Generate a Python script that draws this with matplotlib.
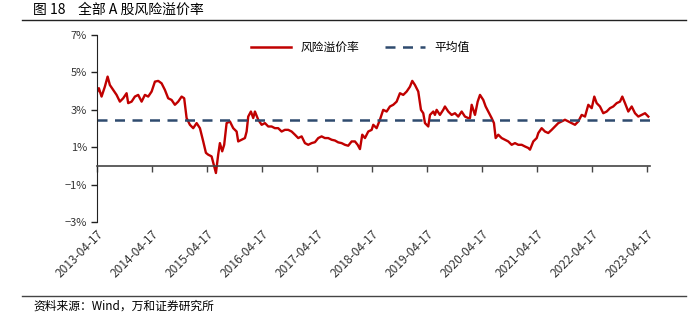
import numpy as np
import matplotlib
matplotlib.use("Agg")
import matplotlib.pyplot as plt
from matplotlib.lines import Line2D

plt.rcParams['font.family'] = ['Noto Sans CJK SC', 'DejaVu Sans']
plt.rcParams['axes.unicode_minus'] = True

# decimal year / risk premium (%)
years = [2013.285, 2013.326, 2013.375, 2013.435, 2013.485, 2013.526, 2013.586, 2013.648, 2013.708, 2013.768,
         2013.830, 2013.859, 2013.921, 2013.981, 2014.041, 2014.103, 2014.163, 2014.223, 2014.285, 2014.345,
         2014.405, 2014.466, 2014.526, 2014.586, 2014.648, 2014.708, 2014.768, 2014.830, 2014.877, 2014.921,
         2014.981, 2015.041, 2015.103, 2015.163, 2015.223, 2015.272, 2015.314, 2015.375, 2015.423, 2015.454,
         2015.495, 2015.526, 2015.568, 2015.604, 2015.648, 2015.708, 2015.768, 2015.830, 2015.859, 2015.921,
         2015.981, 2016.012, 2016.041, 2016.090, 2016.132, 2016.163, 2016.223, 2016.285, 2016.345, 2016.405,
         2016.466, 2016.526, 2016.586, 2016.648, 2016.708, 2016.768, 2016.830, 2016.890, 2016.950, 2017.012,
         2017.072, 2017.132, 2017.194, 2017.254, 2017.314, 2017.375, 2017.435, 2017.495, 2017.557, 2017.617,
         2017.677, 2017.739, 2017.799, 2017.859, 2017.921, 2017.981, 2018.030, 2018.072, 2018.114, 2018.163,
         2018.223, 2018.285, 2018.314, 2018.375, 2018.435, 2018.495, 2018.557, 2018.617, 2018.677, 2018.739,
         2018.799, 2018.859, 2018.921, 2018.981, 2019.023, 2019.072, 2019.132, 2019.181, 2019.223, 2019.254,
         2019.314, 2019.345, 2019.405, 2019.435, 2019.466, 2019.526, 2019.586, 2019.617, 2019.677, 2019.739,
         2019.799, 2019.859, 2019.921, 2019.981, 2020.041, 2020.072, 2020.103, 2020.132, 2020.163, 2020.212,
         2020.254, 2020.314, 2020.357, 2020.405, 2020.466, 2020.508, 2020.539, 2020.586, 2020.648, 2020.708,
         2020.768, 2020.830, 2020.890, 2020.950, 2021.012, 2021.072, 2021.132, 2021.163, 2021.223, 2021.285,
         2021.314, 2021.375, 2021.435, 2021.495, 2021.557, 2021.617, 2021.677, 2021.739, 2021.799, 2021.859,
         2021.921, 2021.981, 2022.041, 2022.103, 2022.163, 2022.223, 2022.285, 2022.332, 2022.375, 2022.435,
         2022.495, 2022.557, 2022.617, 2022.677, 2022.739, 2022.799, 2022.841, 2022.890, 2022.950, 2023.012,
         2023.072, 2023.132, 2023.194, 2023.254, 2023.314]
premium = [3.89, 4.16, 3.71, 4.24, 4.78, 4.33, 4.07, 3.80, 3.44, 3.62,
           3.89, 3.36, 3.44, 3.71, 3.80, 3.44, 3.80, 3.71, 3.98, 4.51,
           4.55, 4.42, 4.07, 3.62, 3.53, 3.27, 3.44, 3.71, 3.62, 2.56,
           2.20, 2.02, 2.29, 2.02, 1.31, 0.70, 0.60, 0.51, -0.02, -0.38,
           0.60, 1.22, 0.78, 1.13, 2.29, 2.38, 2.02, 1.84, 1.31, 1.40,
           1.49, 1.84, 2.64, 2.91, 2.56, 2.91, 2.47, 2.20, 2.29, 2.11,
           2.11, 2.02, 2.02, 1.84, 1.93, 1.93, 1.84, 1.67, 1.49, 1.58,
           1.22, 1.13, 1.22, 1.27, 1.49, 1.58, 1.49, 1.49, 1.40, 1.36,
           1.26, 1.22, 1.13, 1.08, 1.31, 1.31, 1.13, 0.90, 1.67, 1.49,
           1.84, 1.93, 2.20, 2.02, 2.47, 3.00, 2.91, 3.18, 3.27, 3.44,
           3.89, 3.80, 3.98, 4.24, 4.55, 4.33, 3.98, 3.00, 2.82, 2.29,
           2.11, 2.73, 2.91, 2.73, 3.00, 2.73, 3.00, 3.18, 2.91, 2.73,
           2.82, 2.64, 2.91, 2.64, 2.56, 2.56, 3.27, 3.00, 2.73, 3.44,
           3.80, 3.53, 3.18, 2.91, 2.56, 2.29, 1.49, 1.67, 1.49, 1.40,
           1.31, 1.13, 1.22, 1.13, 1.13, 1.04, 0.96, 0.87, 1.31, 1.49,
           1.76, 2.02, 1.84, 1.76, 1.93, 2.11, 2.29, 2.38, 2.47, 2.38,
           2.29, 2.20, 2.38, 2.73, 2.64, 3.27, 3.09, 3.71, 3.36, 3.18,
           2.82, 2.91, 3.09, 3.18, 3.36, 3.44, 3.71, 3.36, 2.91, 3.18,
           2.82, 2.64, 2.73, 2.82, 2.64]
mean_value = 2.45

tick_years = [2013.29 + k for k in range(11)]
tick_labels = [f"{2013 + k}-04-17" for k in range(11)]
y_ticks = [-3, -1, 1, 3, 5, 7]

red = '#C00000'
navy = '#2F4B6E'

fig = plt.figure(figsize=(6.97, 3.25), dpi=100)
ax = fig.add_axes([0.139, 0.317, 0.794, 0.575])

ax.plot(years, premium, color=red, lw=1.7, solid_joinstyle='round')
ax.axhline(mean_value, color=navy, lw=1.8, ls=(0, (4, 3)))

ax.set_xlim(2013.29, 2023.35)
ax.set_ylim(-3, 7)
ax.set_yticks(y_ticks)
ax.set_yticklabels([f"{v}%".replace('-', '\u2212') for v in y_ticks], fontsize=8, color='#333333')
ax.tick_params(axis='y', direction='out', length=4, width=1, color='#222222', pad=3)

for s in ['top', 'right']:
    ax.spines[s].set_visible(False)
ax.spines['left'].set_color('#222222')
ax.spines['bottom'].set_position(('data', 0))
ax.spines['bottom'].set_color('#444444')
ax.spines['bottom'].set_linewidth(1.2)
ax.set_xticks(tick_years)
ax.tick_params(axis='x', direction='out', length=4, width=1, color='#444444', labelbottom=False)

# date labels sit under the plot area, not on the zero line
sec = ax.secondary_xaxis('bottom')
sec.set_xticks(tick_years)
sec.set_xticklabels(tick_labels, rotation=45, ha='right', va='top', fontsize=8.6,
                    rotation_mode='anchor', color='#333333')
sec.tick_params(length=0, pad=4)
sec.spines['bottom'].set_visible(False)

handles = [Line2D([], [], color=red, lw=1.8),
           Line2D([], [], color=navy, lw=1.8, ls=(0, (4, 3)))]
ax.legend(handles, ['风险溢价率', '平均值'], loc='center', bbox_to_anchor=(0.476, 0.935),
          ncol=2, frameon=False, fontsize=8.5, handlelength=3.4, columnspacing=2.2, handletextpad=0.8)

fig.text(33 / 697, 1 - 10 / 325, '图 18    全部 A 股风险溢价率', fontsize=10, va='center', ha='left')
fig.add_artist(Line2D([22 / 697, 686 / 697], [1 - 20 / 325, 1 - 20 / 325], color='#222222', lw=1))
fig.add_artist(Line2D([22 / 697, 686 / 697], [1 - 296 / 325, 1 - 296 / 325], color='#444444', lw=1))
fig.text(33 / 697, 1 - 306 / 325, '资料来源：Wind，万和证券研究所', fontsize=8.5, va='center', ha='left')

fig.savefig('out.png', dpi=100)
